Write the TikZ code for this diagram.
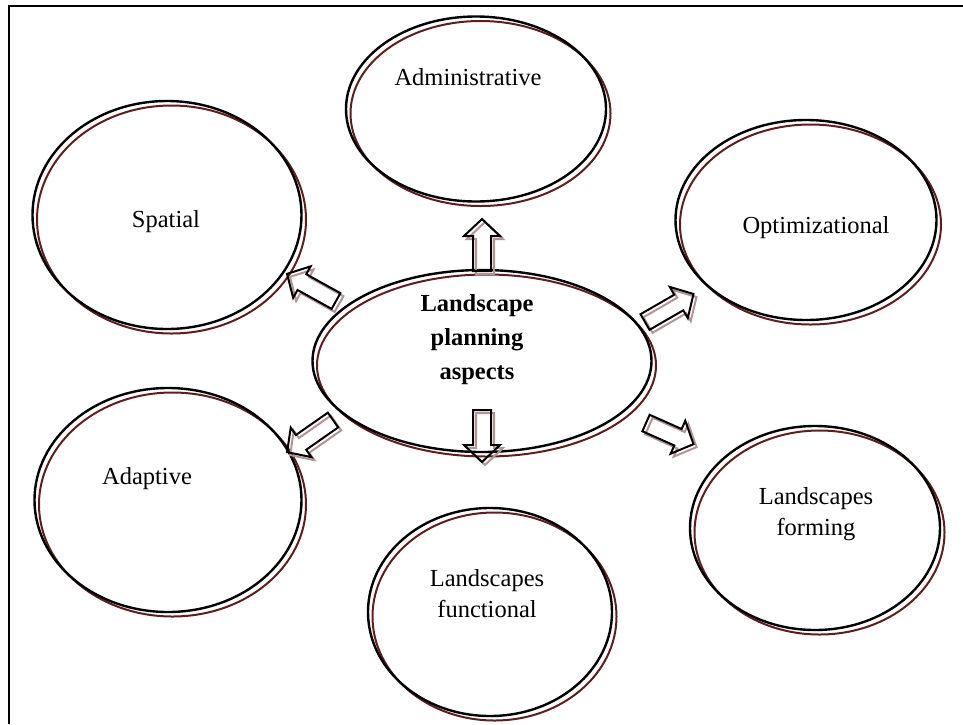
\documentclass[tikz,border=0pt]{standalone}
\usepackage{fontspec}
\setmainfont{Liberation Serif}
\usetikzlibrary{shapes.geometric}
\definecolor{shadowred}{HTML}{5E1E1E}
\definecolor{arrowshadow}{HTML}{B39494}
\tikzset{
  bubble/.style={ellipse, draw=black, line width=2.4pt, inner sep=0pt},
  bubbleshadow/.style={ellipse, draw=shadowred, line width=2pt, inner sep=0pt},
  arrowline/.style={draw=black, line width=2pt, line join=miter},
  arrowshadowline/.style={draw=arrowshadow, line width=2pt, line join=miter},
  lbl/.style={font=\fontsize{24.5}{31}\selectfont, align=center, inner sep=0pt},
  mainlbl/.style={font=\fontsize{24.5}{34}\selectfont\bfseries, align=center, inner sep=0pt},
}
\newcommand\bubbleat[5]{%
  \node[bubbleshadow, minimum width=#4pt, minimum height=#5pt] (#1s) at (#2+4.5,#3+4.5) {};
  \node[bubble, minimum width=#4pt, minimum height=#5pt] (#1) at (#2,#3) {};
}
% name, x, y (tail), angle, length
\newcommand\arrowat[5]{%
  \coordinate (#1) at (#2,#3);
  \begin{scope}[shift={(#1)}, shift={(3,3)}, rotate=#4]
    \draw[arrowshadowline] (0,-9) -- (#5-17,-9) -- (#5-17,-18) -- (#5,0)
      -- (#5-17,18) -- (#5-17,9) -- (0,9) -- cycle;
  \end{scope}
  \begin{scope}[shift={(#1)}, rotate=#4]
    \draw[arrowline] (0,-9) -- (#5-17,-9) -- (#5-17,-18) -- (#5,0)
      -- (#5-17,18) -- (#5-17,9) -- (0,9) -- cycle;
  \end{scope}
}
\begin{document}
\begin{tikzpicture}[x=1pt,y=-1pt]
\useasboundingbox (0,0) rectangle (963,724);
\draw[line width=2.5pt] (9,724) -- (9,6) -- (963,6);

\bubbleat{adm}{476}{109}{260}{185}
\bubbleat{spa}{167}{215}{269}{228}
\bubbleat{opt}{806}{220}{261}{200}
\bubbleat{ctr}{482}{361}{339}{182}
\bubbleat{ada}{168}{500}{267}{224}
\bubbleat{fun}{490}{612}{244}{208}
\bubbleat{frm}{815}{528}{250}{204}

\node[lbl] (tadm) at (468,77) {Administrative};
\node[lbl] (tspa) at (166,222) {Spatial};
\node[lbl] (topt) at (816,228) {Optimizational};
\node[mainlbl] (tctr) at (477,340) {Landscape\\planning\\aspects};
\node[lbl] (tada) at (147,479) {Adaptive};
\node[lbl] (tfun) at (487,594) {Landscapes\\functional};
\node[lbl] (tfrm) at (816,514) {Landscapes\\forming};

\arrowat{aup}{482}{271}{90}{52}
\arrowat{adn}{482}{410}{270}{52}
\arrowat{aspa}{336}{301}{151}{56}
\arrowat{aopt}{645}{322}{30}{56}
\arrowat{aada}{333}{420}{215}{56}
\arrowat{afrm}{646}{423}{336}{52}
\end{tikzpicture}
\end{document}
